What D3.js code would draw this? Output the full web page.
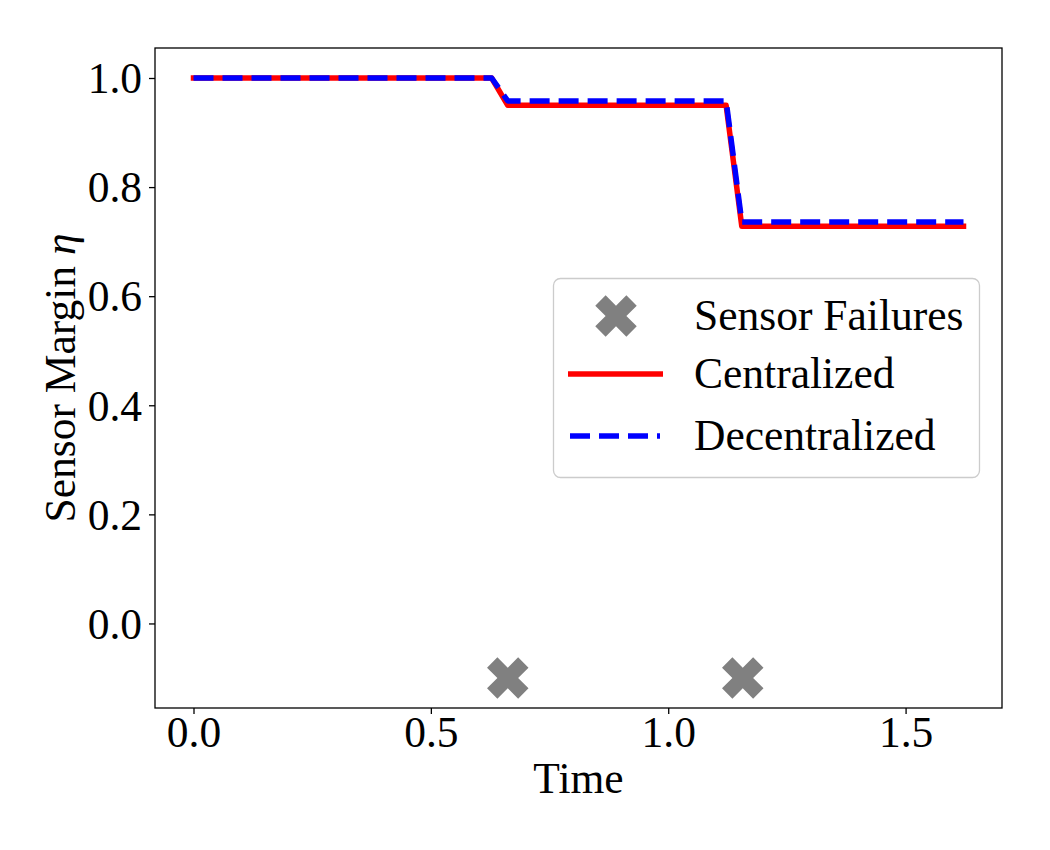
<!DOCTYPE html>
<html>
<head>
<meta charset="utf-8">
<script src="https://d3js.org/d3.v7.min.js"></script>
<style>
  body { margin: 0; background: #fff; }
  text { font-family: "Liberation Serif", "DejaVu Serif", serif; fill: #000; }
</style>
</head>
<body>
<svg id="chart" width="1050" height="850"></svg>
<script>
// data
var timeSteps = [0, 0.628, 0.662, 1.122, 1.155, 1.622];
var centralized = [1.0, 1.0, 0.95, 0.95, 0.728, 0.728];
var decentralized = [1.0, 1.0, 0.958, 0.958, 0.736, 0.736];
var failureTimes = [0.662, 1.157];
var failureLevel = [-0.1, -0.1];
var xTicks = [0.0, 0.5, 1.0, 1.5];
var yTicks = [0.0, 0.2, 0.4, 0.6, 0.8, 1.0];
var legendLabels = ["Sensor Failures", "Centralized", "Decentralized"];

draw()

function draw() {
    var svg = d3.select("#chart")
    var margin = { top: 48, left: 155, right: 1002, bottom: 708 };
    var fontSize = 43.5;

    //scales (matplotlib style 5% padding)
    var x = d3.scaleLinear()
        .domain([-0.0811, 1.7031])
        .range([margin.left, margin.right]);
    var y = d3.scaleLinear()
        .domain([-0.155, 1.055])
        .range([margin.bottom, margin.top]);

    //x axis
    var xAxis = d3.axisBottom(x)
        .tickValues(xTicks)
        .tickSize(6)
        .tickFormat(d3.format(".1f"));
    var gx = svg.append("g")
        .attr("transform", "translate(0," + margin.bottom + ")")
        .call(xAxis);
    gx.select(".domain").remove();
    gx.selectAll("line").attr("stroke", "#000").attr("stroke-width", 1.3);
    gx.selectAll("text")
        .attr("font-family", "Liberation Serif")
        .style("font-size", fontSize + "px")
        .attr("y", 39)
        .attr("dy", 0);

    //y axis
    var yAxis = d3.axisLeft(y)
        .tickValues(yTicks)
        .tickSize(6)
        .tickPadding(7)
        .tickFormat(d3.format(".1f"));
    var gy = svg.append("g")
        .attr("transform", "translate(" + margin.left + ",0)")
        .call(yAxis);
    gy.select(".domain").remove();
    gy.selectAll("line").attr("stroke", "#000").attr("stroke-width", 1.3);
    gy.selectAll("text")
        .attr("font-family", "Liberation Serif")
        .style("font-size", fontSize + "px")
        .attr("dy", "0.34em");

    //axis labels
    svg.append("text")
        .attr("x", (margin.left + margin.right) / 2)
        .attr("y", 793)
        .attr("text-anchor", "middle")
        .style("font-size", fontSize + "px")
        .text("Time");

    var ylab = svg.append("text")
        .attr("transform", "translate(75," + ((margin.top + margin.bottom) / 2) + ") rotate(-90)")
        .attr("text-anchor", "middle")
        .style("font-size", fontSize + "px");
    ylab.append("tspan").text("Sensor Margin ");
    ylab.append("tspan").style("font-style", "italic").text("η");

    //lines
    var line = d3.line()
        .x(function(d) { return x(d[0]); })
        .y(function(d) { return y(d[1]); });

    svg.append("path")
        .datum(d3.zip(timeSteps, centralized))
        .attr("d", line)
        .attr("fill", "none")
        .attr("stroke", "#ff0000")
        .attr("stroke-width", 5.5)
        .attr("stroke-linecap", "square")
        .attr("stroke-linejoin", "round");

    svg.append("path")
        .datum(d3.zip(timeSteps, decentralized))
        .attr("d", line)
        .attr("fill", "none")
        .attr("stroke", "#0000ff")
        .attr("stroke-width", 5.5)
        .attr("stroke-dasharray", "20,9")
        .attr("stroke-linejoin", "round");

    //filled X marker like matplotlib 'X'
    var xFilled = {
        draw: function(context, size) {
            var L = Math.sqrt(size) / 2;
            var w = L / 3;
            var pts = [[w, w], [L, w], [L, -w], [w, -w], [w, -L], [-w, -L],
                       [-w, -w], [-L, -w], [-L, w], [-w, w], [-w, L], [w, L]];
            var c = Math.SQRT1_2;
            pts.forEach(function(p, i) {
                var px = (p[0] - p[1]) * c, py = (p[0] + p[1]) * c;
                if (i === 0) context.moveTo(px, py); else context.lineTo(px, py);
            });
            context.closePath();
        }
    };
    var markerPath = d3.symbol().type(xFilled).size(44 * 44);

    svg.append("g").selectAll("path")
        .data(d3.zip(failureTimes, failureLevel))
        .enter()
        .append("path")
        .attr("transform", function(d) { return "translate(" + x(d[0]) + "," + y(d[1]) + ")"; })
        .attr("d", markerPath)
        .attr("fill", "#808080");

    //frame
    svg.append("rect")
        .attr("x", margin.left)
        .attr("y", margin.top)
        .attr("width", margin.right - margin.left)
        .attr("height", margin.bottom - margin.top)
        .attr("fill", "none")
        .attr("stroke", "#000")
        .attr("stroke-width", 1.3);

    //legend
    var legend = svg.append("g").attr("class", "legend");
    legend.append("rect")
        .attr("x", 553.5)
        .attr("y", 278.5)
        .attr("width", 426)
        .attr("height", 199)
        .attr("rx", 7)
        .attr("fill", "rgba(255,255,255,0.8)")
        .attr("stroke", "#cccccc")
        .attr("stroke-width", 1.3);

    var rowY = [316, 374, 436];
    legend.append("path")
        .attr("transform", "translate(616," + rowY[0] + ")")
        .attr("d", markerPath)
        .attr("fill", "#808080");
    legend.append("line")
        .attr("x1", 568).attr("x2", 663)
        .attr("y1", rowY[1]).attr("y2", rowY[1])
        .attr("stroke", "#ff0000")
        .attr("stroke-width", 5.5);
    legend.append("line")
        .attr("x1", 570).attr("x2", 660)
        .attr("y1", rowY[2]).attr("y2", rowY[2])
        .attr("stroke", "#0000ff")
        .attr("stroke-width", 5.5)
        .attr("stroke-dasharray", "20,9");

    legend.selectAll("text.lab")
        .data(legendLabels)
        .enter()
        .append("text")
        .attr("class", "lab")
        .attr("x", 694)
        .attr("y", function(d, i) { return rowY[i] + 14; })
        .style("font-size", fontSize + "px")
        .text(function(d) { return d; });
}
</script>
</body>
</html>
